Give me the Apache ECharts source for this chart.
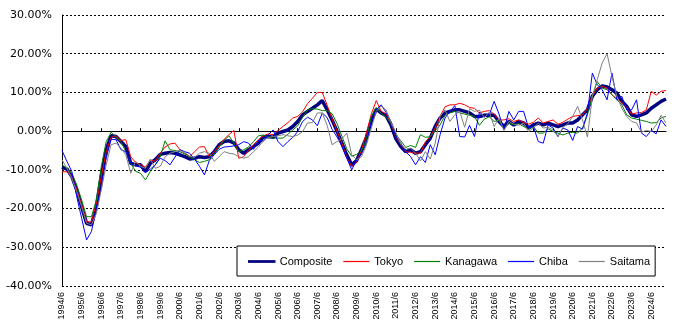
<!DOCTYPE html>
<html>
<head>
<meta charset="utf-8">
<script src="https://cdn.jsdelivr.net/npm/echarts@6/dist/echarts.min.js"></script>
<style>
html,body{margin:0;padding:0;background:#fff;}
#chart{width:674px;height:333px;}
</style>
</head>
<body>
<div id="chart"></div>
<script>
// Quarterly periods from 1994/6 to 2025/3
const categories = (function () {
  const out = [];
  let y = 1994, m = 6;
  for (let i = 0; i < 124; i++) {
    out.push(y + '/' + m);
    m += 3;
    if (m > 12) { m -= 12; y++; }
  }
  return out;
})();

const seriesNames = ['Composite', 'Tokyo', 'Kanagawa', 'Chiba', 'Saitama'];

// Year-on-year change (%)
const composite = [
  -9.3, -9.8, -11.7, -15.2, -19.5, -23.8, -24.2, -19.5, -11.7, -4.8,
  -1.2, -1.4, -2.7, -4.0, -8.3, -8.7, -8.7, -10.4, -8.3, -7.4,
  -6.0, -5.7, -5.5, -5.7, -6.1, -6.6, -7.2, -7.0, -6.6, -6.8,
  -6.6, -5.3, -3.5, -2.7, -2.5, -3.0, -4.8, -5.7, -4.8, -4.0,
  -3.1, -1.5, -1.4, -1.6, -0.5, -0.1, 0.3, 1.2, 2.5, 4.2,
  5.1, 5.9, 6.8, 7.9, 5.5, 2.9, 0.0, -3.1, -6.2, -8.7,
  -7.6, -4.7, -1.6, 2.7, 5.7, 4.7, 4.0, 1.6, -2.0, -4.0,
  -5.3, -4.8, -5.7, -5.3, -3.5, -1.8, 1.2, 3.4, 4.7, 5.1,
  5.5, 5.5, 5.1, 4.7, 3.8, 3.8, 4.1, 4.2, 4.1, 2.5,
  1.2, 2.5, 1.6, 2.5, 2.1, 0.8, 1.6, 2.1, 1.6, 2.1,
  1.6, 1.2, 1.6, 2.1, 2.1, 2.9, 4.2, 5.5, 9.0, 10.7,
  11.7, 11.4, 10.7, 9.8, 7.7, 6.4, 4.2, 3.8, 4.2, 4.7,
  5.9, 6.8, 7.7, 8.3
];

const tokyo = [
  -10.5, -10.5, -11.6, -15.2, -19.0, -23.4, -23.4, -18.6, -11.7, -5.3,
  -1.6, -1.2, -2.4, -2.2, -6.6, -8.1, -8.7, -9.3, -7.4, -7.8,
  -5.7, -4.1, -3.3, -3.1, -4.8, -5.7, -6.6, -5.3, -4.1, -4.0,
  -6.6, -5.3, -3.8, -2.1, -0.9, 0.2, -7.0, -6.6, -5.0, -3.5,
  -2.2, -1.2, -0.7, -0.9, 0.2, 1.2, 2.2, 3.4, 3.8, 5.0,
  7.1, 8.5, 10.0, 10.0, 6.7, 3.2, 0.0, -3.1, -6.9, -9.2,
  -8.0, -4.8, -0.5, 4.5, 7.9, 5.1, 4.5, 2.0, -1.5, -3.4,
  -5.3, -5.5, -5.7, -5.7, -2.8, -1.4, 0.8, 3.8, 6.3, 6.8,
  6.8, 7.2, 6.8, 6.1, 5.9, 4.7, 5.1, 5.3, 4.4, 2.9,
  2.9, 3.2, 2.5, 2.9, 2.2, 1.8, 2.3, 3.4, 2.1, 2.5,
  2.9, 1.8, 2.3, 3.1, 3.8, 4.0, 4.2, 5.9, 9.1, 11.1,
  11.6, 11.1, 9.4, 8.3, 7.4, 6.2, 4.4, 4.7, 4.8, 5.5,
  10.3, 9.3, 10.3, 10.5
];

const kanagawa = [
  -8.7, -9.6, -11.0, -13.9, -17.8, -22.1, -22.1, -17.8, -9.1, -2.7,
  -0.3, -1.6, -2.7, -5.3, -8.3, -10.4, -10.9, -12.6, -10.4, -8.7,
  -6.6, -2.5, -4.8, -5.0, -5.3, -5.9, -6.6, -7.4, -8.1, -7.8,
  -7.4, -5.9, -4.1, -2.4, -1.2, -3.1, -5.3, -4.8, -4.1, -2.7,
  -1.2, -1.0, -1.6, -1.8, -1.8, -1.8, -0.8, 0.3, 1.4, 3.6,
  5.5, 5.8, 5.7, 5.3, 5.3, 4.5, 2.0, -1.3, -4.6, -6.5,
  -6.0, -5.0, -2.3, 3.9, 6.1, 4.6, 3.6, 2.1, -0.9, -2.5,
  -4.2, -3.7, -4.2, -0.9, -1.6, -1.4, 0.1, 1.6, 4.1, 4.7,
  5.1, 4.7, 4.4, 4.1, 3.8, 1.5, 3.1, 3.7, 2.5, 2.8,
  0.6, 2.0, 1.7, 1.9, 1.2, 0.5, 1.2, -0.5, -0.5, 0.6,
  -0.1, -0.5, -1.0, -0.5, -0.3, -0.5, 0.8, 4.2, 9.0, 12.8,
  11.1, 10.7, 9.4, 8.1, 6.8, 4.2, 3.4, 3.1, 2.8, 2.5,
  2.1, 2.2, 3.4, 3.8
];

const chiba = [
  -5.0, -7.8, -10.4, -16.9, -22.5, -28.1, -25.9, -19.9, -14.7, -7.0,
  -2.1, -2.2, -4.8, -5.3, -8.3, -9.0, -9.3, -10.7, -9.8, -8.7,
  -7.0, -7.6, -8.7, -6.7, -4.8, -5.3, -5.7, -7.2, -9.1, -11.3,
  -7.6, -6.1, -4.7, -4.1, -4.0, -3.8, -3.5, -2.7, -3.1, -4.7,
  -2.4, -2.6, -0.9, 0.3, -2.7, -4.0, -2.7, -1.6, -0.1, 2.5,
  3.6, 2.9, 1.4, 4.7, 3.5, 0.5, -1.5, -3.9, -7.0, -10.0,
  -7.5, -5.9, -3.1, 2.5, 5.5, 6.8, 4.8, 2.5, -1.3, -3.1,
  -5.3, -6.6, -8.7, -6.6, -8.1, -3.5, -6.1, -0.9, 3.4, 5.1,
  6.6, -1.4, -1.5, 1.5, -1.4, 4.9, 3.8, 4.2, 7.7, 4.4,
  0.3, 5.1, 2.9, 5.1, 5.1, 0.9, 1.2, -2.7, -3.1, 1.6,
  0.8, -1.4, 0.8, 0.3, -2.4, 1.2, 0.5, 4.7, 15.0, 12.0,
  10.7, 8.1, 15.0, 8.1, 9.0, 5.5, 5.5, 8.1, -0.5, -1.4,
  0.2, -0.7, 2.9, 1.2
];

const saitama = [
  -7.4, -9.6, -12.2, -15.6, -19.5, -23.8, -24.2, -21.2, -15.2, -8.7,
  -3.5, -3.1, -4.4, -6.1, -10.9, -7.8, -9.1, -9.6, -7.2, -9.6,
  -9.1, -6.6, -5.7, -5.3, -5.0, -5.5, -6.4, -6.8, -5.7, -5.3,
  -5.7, -7.8, -6.6, -5.3, -5.7, -5.9, -6.6, -7.0, -6.6, -5.3,
  -4.1, -2.5, -1.6, -1.4, -1.2, -0.9, -1.2, -1.4, -1.0, -0.1,
  2.1, 2.2, 4.7, 4.7, 1.5, -3.5, -2.7, -2.0, -0.5, -6.1,
  -7.4, -6.6, -3.5, 0.8, 5.1, 6.5, 5.5, 2.2, -0.3, -3.4,
  -4.7, -4.4, -5.7, -7.7, -5.3, -7.2, -3.1, 3.8, 5.5, 2.5,
  4.2, 5.1, 1.0, 5.8, 5.1, 5.4, 3.5, 4.9, 1.2, 3.4,
  0.1, 2.5, 1.8, 1.5, 2.1, -0.1, 0.8, 2.1, 0.8, 1.0,
  0.3, -1.4, 1.0, 1.9, 3.8, 6.4, 2.9, -1.5, 9.0, 13.3,
  17.6, 20.0, 14.1, 9.0, 5.9, 3.8, 2.5, 2.1, -0.3, 0.2,
  -0.1, 1.6, 4.1, 2.1
];

const yTicks = { min: -40, max: 30, step: 10 };

const seriesData = [composite, tokyo, kanagawa, chiba, saitama];
const seriesColors = ['#000080', '#FF0000', '#008000', '#0000FF', '#808080'];
const seriesWidths = [3.5, 1, 1, 1, 1];

const chart = echarts.init(document.getElementById('chart'), null, { renderer: 'canvas' });

const isYearTick = function (i) { return i % 4 === 0; };

chart.setOption({
  animation: false,
  backgroundColor: '#fff',
  grid: { left: 62, right: 8, top: 15, bottom: 47, containLabel: false },
  legend: {
    data: seriesNames.map(function (name, i) {
      return {
        name: name,
        icon: 'rect',
        itemStyle: i === 0
          ? { color: seriesColors[i], borderColor: seriesColors[i], borderWidth: 1.5 }
          : { color: seriesColors[i], borderWidth: 0 }
      };
    }),
    left: 237,
    top: 246,
    orient: 'horizontal',
    itemWidth: 26,
    itemHeight: 1.2,
    itemGap: 11,
    padding: [9, 5, 8, 11],
    borderColor: '#000',
    borderWidth: 1,
    backgroundColor: '#fff',
    textStyle: { fontFamily: 'Liberation Sans', fontSize: 11, color: '#000', lineHeight: 13 }
  },
  xAxis: [
    {
      type: 'category',
      data: categories,
      boundaryGap: false,
      position: 'bottom',
      axisLine: { show: false, onZero: false },
      axisTick: { show: false },
      splitLine: { show: false },
      axisLabel: {
        interval: isYearTick,
        rotate: 90,
        margin: 6,
        fontFamily: 'Liberation Sans',
        fontSize: 9,
        color: '#000'
      }
    },
    {
      type: 'category',
      data: categories,
      boundaryGap: false,
      position: 'bottom',
      axisLine: { show: true, onZero: true, lineStyle: { color: '#000', width: 1 } },
      axisTick: { show: true, inside: true, length: 3, interval: isYearTick, lineStyle: { color: '#000' } },
      axisLabel: { show: false },
      splitLine: { show: false }
    }
  ],
  yAxis: {
    type: 'value',
    min: yTicks.min,
    max: yTicks.max,
    interval: yTicks.step,
    axisLine: { show: true, lineStyle: { color: '#000', width: 1 } },
    axisTick: { show: false },
    axisLabel: {
      formatter: function (v) { return v.toFixed(2) + '%'; },
      fontFamily: 'DejaVu Sans',
      fontSize: 11,
      color: '#000',
      margin: 10
    },
    splitLine: { show: true, lineStyle: { color: '#000', width: 1, type: [2, 2] } }
  },
  series: seriesNames.map(function (name, i) {
    return {
      name: name,
      type: 'line',
      xAxisIndex: 0,
      data: seriesData[i],
      symbol: 'none',
      color: seriesColors[i],
      lineStyle: { color: seriesColors[i], width: seriesWidths[i] },
      z: 2
    };
  })
});
</script>
</body>
</html>
